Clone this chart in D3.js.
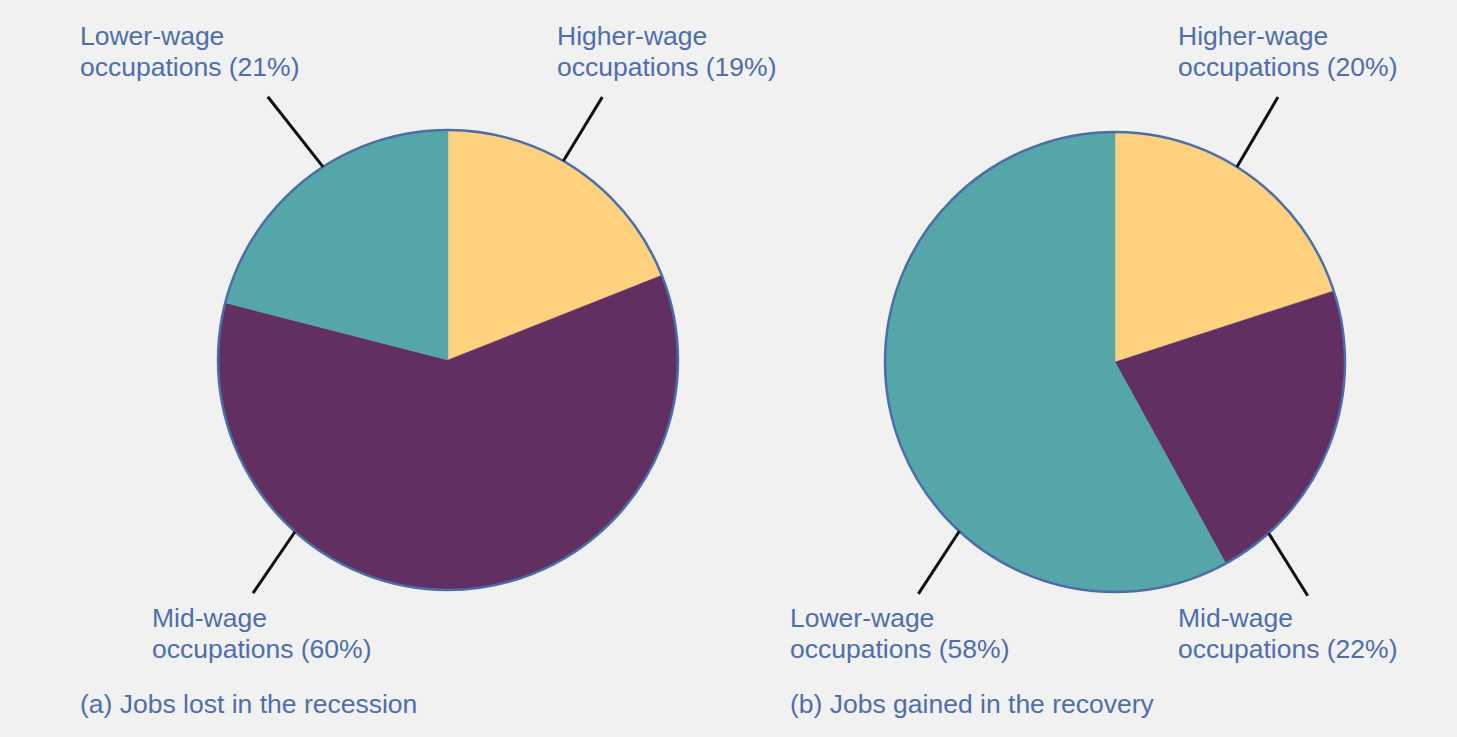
<!DOCTYPE html>
<html>
<head>
<meta charset="utf-8">
<script src="https://cdn.jsdelivr.net/npm/d3@7"></script>
<style>
  html, body { margin: 0; padding: 0; background: #f1f1f1; }
  svg { display: block; }
  text { font-family: "Liberation Sans", Arial, sans-serif; fill: #4f6eab; }
</style>
</head>
<body>
<svg id="chart" width="1457" height="737"></svg>
<script>
// ---- data ----
const categories = ["Higher-wage", "Mid-wage", "Lower-wage"];
const lostValues = [19, 60, 21];     // (a) Jobs lost in the recession
const gainedValues = [20, 22, 58];   // (b) Jobs gained in the recovery
const titles = ["(a) Jobs lost in the recession", "(b) Jobs gained in the recovery"];
const colors = ["#fed17f", "#622f62", "#55a6a9"];

// ---- layout (not data) ----
const W = 1457, H = 737, R = 230;
const FS = 26.5;
const pies = [
  { values: lostValues, title: titles[0], cx: 448, cy: 360, titleX: 80,
    labels: [
      { cat: 0, x: 557, y: 45, a0: 30.1, a1: 30.4, r1: 305 },
      { cat: 1, x: 152, y: 627, a0: 221.7, a1: 219.9, r1: 304 },
      { cat: 2, x: 80, y: 45, a0: 327.1, a1: 325.6, r1: 319 }
    ] },
  { values: gainedValues, title: titles[1], cx: 1115, cy: 362, titleX: 790,
    labels: [
      { cat: 0, x: 1178, y: 45, a0: 32.0, a1: 31.6, r1: 311 },
      { cat: 1, x: 1178, y: 627, a0: 138.1, a1: 140.5, r1: 303 },
      { cat: 2, x: 790, y: 627, a0: 222.6, a1: 220.3, r1: 304 }
    ] }
];

const svg = d3.select("#chart");
svg.append("rect").attr("width", W).attr("height", H).attr("fill", "#f1f1f1");

const color = d3.scaleOrdinal().domain(d3.range(categories.length)).range(colors);
const pie = d3.pie().sort(null).value(d => d);
const arc = d3.arc().innerRadius(0).outerRadius(R);
const rad = d => d * Math.PI / 180;
const polar = (r, deg) => [r * Math.sin(rad(deg)), -r * Math.cos(rad(deg))];

pies.forEach(p => {
  const g = svg.append("g").attr("transform", `translate(${p.cx},${p.cy})`);
  g.selectAll("path.slice")
    .data(pie(p.values))
    .join("path")
    .attr("class", "slice")
    .attr("d", arc)
    .attr("fill", (d, i) => color(i))
    .attr("stroke", (d, i) => color(i))
    .attr("stroke-width", 0.5);
  g.append("circle").attr("r", R).attr("fill", "none")
    .attr("stroke", "#4b6ea8").attr("stroke-width", 2.5);

  // leader lines
  p.labels.forEach(l => {
    const s = polar(R, l.a0), e = polar(l.r1, l.a1);
    g.append("line")
      .attr("x1", s[0]).attr("y1", s[1]).attr("x2", e[0]).attr("y2", e[1])
      .attr("stroke", "#111").attr("stroke-width", 3);
    const t = svg.append("text")
      .attr("x", l.x).attr("y", l.y).attr("font-size", FS);
    t.append("tspan").attr("x", l.x).attr("dy", 0).text(categories[l.cat]);
    t.append("tspan").attr("x", l.x).attr("dy", 31)
      .text(`occupations (${p.values[l.cat]}%)`);
  });

  svg.append("text").attr("x", p.titleX).attr("y", 713)
    .attr("font-size", FS).text(p.title);
});
</script>
</body>
</html>
